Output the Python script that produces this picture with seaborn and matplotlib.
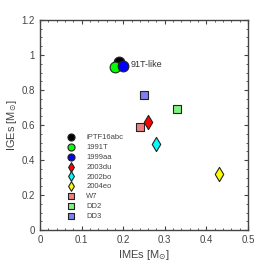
import matplotlib
matplotlib.use("Agg")
import matplotlib.pyplot as plt
import seaborn as sns
import pandas as pd
from matplotlib.ticker import MultipleLocator, FuncFormatter

names = ["iPTF16abc", "1991T", "1999aa", "2003du", "2002bo", "2004eo", "W7", "DD2", "DD3"]
imes = [0.19, 0.18, 0.20, 0.26, 0.28, 0.43, 0.24, 0.33, 0.25]
iges = [0.96, 0.93, 0.94, 0.62, 0.49, 0.32, 0.59, 0.69, 0.77]
colors = ["#000000", "#00ff00", "#0000ff", "#ff0000", "#00ffff", "#ffff00",
          "#f08080", "#80f080", "#8080f0"]
markers = ["o", "o", "o", "d", "d", "d", "s", "s", "s"]
sizes = [60, 60, 60, 52, 52, 52, 32, 32, 32]
legend_sizes = [26, 26, 26, 24, 24, 24, 14, 14, 14]

df = pd.DataFrame({"name": names, "IMEs": imes, "IGEs": iges})

sns.set_style("white")
plt.rcParams["font.family"] = ["Liberation Sans", "DejaVu Sans"]

fig = plt.figure(figsize=(2.69, 2.69), dpi=100)
ax = fig.add_axes([40 / 269, 39 / 269, 208 / 269, 210 / 269])

for i, row in df.iterrows():
    sns.scatterplot(x=[row["IMEs"]], y=[row["IGEs"]], ax=ax, s=sizes[i],
                    color=colors[i], marker=markers[i], edgecolor="#222222",
                    linewidth=0.8, label=row["name"], zorder=3)

ax.text(0.218, 0.945, "91T-like", fontsize=6.5, color="#333333", va="center")

ax.set_xlim(0, 0.5)
ax.set_ylim(0, 1.2)
ax.xaxis.set_major_locator(MultipleLocator(0.1))
ax.xaxis.set_minor_locator(MultipleLocator(0.02))
ax.yaxis.set_major_locator(MultipleLocator(0.2))
ax.yaxis.set_minor_locator(MultipleLocator(0.05))
fmt = FuncFormatter(lambda v, p: f"{v:.1f}".rstrip("0").rstrip(".") if v != 0 else "0")
ax.xaxis.set_major_formatter(fmt)
ax.yaxis.set_major_formatter(fmt)
ax.tick_params(which="both", direction="in", bottom=True, left=True, top=True, right=True,
               labelsize=7, colors="#444444", labelcolor="#444444")
ax.tick_params(which="major", length=3, width=0.8)
ax.tick_params(which="minor", length=1.5, width=0.6)
for s in ax.spines.values():
    s.set_color("#444444")
    s.set_linewidth(1.0)

ax.set_xlabel(r"IMEs [M$_{\odot}$]", fontsize=8, color="#444444", labelpad=2)
ax.set_ylabel(r"IGEs [M$_{\odot}$]", fontsize=8, color="#444444", labelpad=2)

leg = ax.legend(loc="lower left", bbox_to_anchor=(0.08, 0.015), frameon=False,
                fontsize=5.5, handletextpad=1.0, labelspacing=0.33,
                scatterpoints=1)
for h, sz in zip(leg.legend_handles, legend_sizes):
    h.set_sizes([sz])
for t in leg.get_texts():
    t.set_color("#444444")

fig.savefig("out.png", dpi=100)
